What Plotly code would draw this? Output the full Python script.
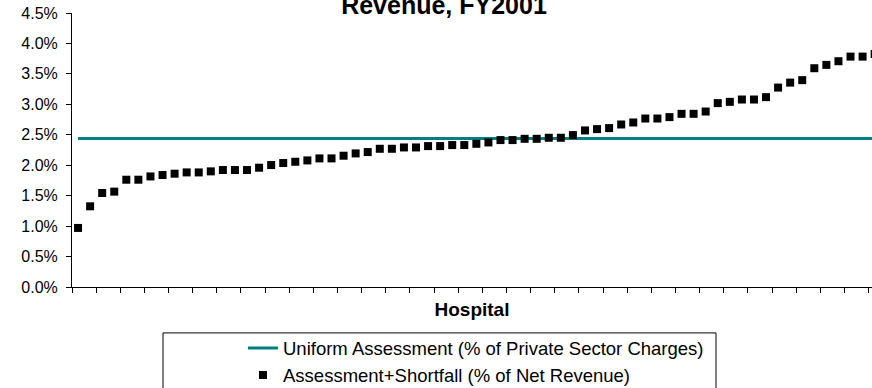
import plotly.graph_objects as go

# ---- data ----
hospitals = [f"H{i}" for i in range(1, 68)]
assessment_shortfall_pct = [
    0.97, 1.325, 1.544, 1.566, 1.762, 1.762, 1.816, 1.839, 1.861, 1.882,
    1.882, 1.899, 1.921, 1.921, 1.921, 1.959, 2.003, 2.036, 2.057, 2.079,
    2.112, 2.112, 2.156, 2.194, 2.216, 2.270, 2.270, 2.292, 2.292, 2.314,
    2.314, 2.331, 2.331, 2.352, 2.374, 2.413, 2.413, 2.434, 2.434, 2.451,
    2.451, 2.495, 2.571, 2.593, 2.610, 2.669, 2.702, 2.767, 2.767, 2.790,
    2.844, 2.844, 2.882, 3.020, 3.041, 3.079, 3.079, 3.118, 3.275, 3.357,
    3.397, 3.593, 3.648, 3.708, 3.784, 3.784, 3.828,
]
uniform_rate_pct = 2.44
series_names = [
    "Uniform Assessment (% of Private Sector Charges)",
    "Assessment+Shortfall (% of Net Revenue)",
]
title_text = "Revenue, FY2001"
x_title = "Hospital"

# ---- layout geometry (pixels) ----
W, H = 872, 388
L, R, T, B = 72, 872, 13, 287.5
pw, ph = R - L, B - T


def px_x(p):
    return (p - L) / pw


def px_y(p):
    return (B - p) / ph


FONT = "Liberation Sans, Arial, sans-serif"

fig = go.Figure()
fig.add_trace(go.Scatter(
    x=hospitals, y=[uniform_rate_pct / 100] * len(hospitals),
    mode="lines", name=series_names[0],
    line=dict(color="#008080", width=3),
    legendgroup="a",
))
fig.add_trace(go.Scatter(
    x=hospitals, y=[v / 100 for v in assessment_shortfall_pct],
    mode="markers", name=series_names[1],
    marker=dict(symbol="square", size=8, color="black"),
    cliponaxis=True,
    legendgroup="b",
))

n_visible = pw / 12.07
fig.update_layout(
    width=W, height=H,
    margin=dict(l=L, r=W - R, t=T, b=H - B, pad=0, autoexpand=False),
    paper_bgcolor="white", plot_bgcolor="white",
    font=dict(family=FONT, size=16, color="black"),
    showlegend=True,
    title=dict(
        text=f"<b>{title_text}</b>",
        font=dict(family=FONT, size=25, color="black"),
        x=444 / W, xanchor="center", xref="container",
        y=1 - 13.5 / H, yanchor="bottom", yref="container",
    ),
    xaxis=dict(
        type="category",
        range=[-0.5, -0.5 + n_visible],
        automargin=False,
        showline=True, linecolor="black", linewidth=1,
        ticks="outside", tickson="boundaries", ticklen=5,
        tickcolor="black", tickwidth=1,
        showticklabels=False, showgrid=False, zeroline=False,
        title=dict(text=f"<b>{x_title}</b>",
                   font=dict(family=FONT, size=19, color="black"),
                   standoff=15),
    ),
    yaxis=dict(
        range=[0, 0.045], dtick=0.005, tickformat=".1%",
        automargin=False,
        showline=True, linecolor="black", linewidth=1,
        ticks="outside", ticklen=5, tickcolor="black", tickwidth=1,
        showgrid=False, zeroline=False,
        tickfont=dict(family=FONT, size=16, color="black"),
        ticklabelstandoff=5,
    ),
    legend=dict(
        x=px_x(243), y=px_y(330), xanchor="left", yanchor="top",
        xref="paper", yref="paper",
        bgcolor="rgba(0,0,0,0)", borderwidth=0,
        font=dict(family=FONT, size=18.5, color="black"),
        tracegroupgap=0,
    ),
    shapes=[dict(
        type="rect", xref="paper", yref="paper",
        x0=px_x(163), x1=px_x(716), y0=px_y(333.5), y1=px_y(420),
        line=dict(color="black", width=1), fillcolor="rgba(0,0,0,0)",
        layer="above",
    )],
)

fig.write_html("out.html")
